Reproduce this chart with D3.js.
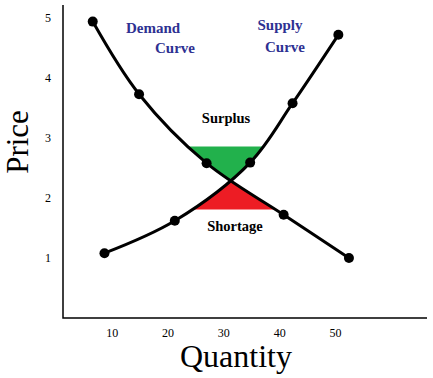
<!DOCTYPE html>
<html>
<head>
<meta charset="utf-8">
<script src="https://cdn.jsdelivr.net/npm/d3@7"></script>
<style>
  body { margin: 0; background: #fff; }
  svg { display: block; font-family: "Liberation Serif", "Times New Roman", serif; }
</style>
</head>
<body>
<svg id="chart" width="433" height="378"></svg>
<script>
// quantity / price
const demandQty = [6.6, 14.9, 27.0, 40.8, 52.5]
const demandPrice = [4.94, 3.73, 2.58, 1.72, 1.0]
const supplyQty = [8.7, 21.3, 34.8, 42.4, 50.6]
const supplyPrice = [1.08, 1.62, 2.59, 3.58, 4.72]
const xTicks = [10, 20, 30, 40, 50]
const yTicks = [1, 2, 3, 4, 5]
const surplusPrice = 2.86
const shortagePrice = 1.81

const svg = d3.select('#chart')

const xScale = d3.scaleLinear().domain([0, 50]).range([55.9, 335])
const yScale = d3.scaleLinear().domain([0, 5]).range([318, 18])

const demand = demandQty.map((q, i) => ({q, p: demandPrice[i]}))
const supply = supplyQty.map((q, i) => ({q, p: supplyPrice[i]}))

const line = d3.line()
  .x(d => xScale(d.q))
  .y(d => yScale(d.p))
  .curve(d3.curveCatmullRom)

// axes: only the tick labels, the frame is drawn as one path
const yAxis = d3.axisLeft(yScale).tickValues(yTicks).tickFormat(d3.format('d')).tickSize(0)
const xAxis = d3.axisBottom(xScale).tickValues(xTicks).tickFormat(d3.format('d')).tickSize(0)

const gy = svg.append('g').attr('transform', 'translate(63,0)').call(yAxis)
gy.select('.domain').remove()
gy.selectAll('text').attr('x', -12).attr('font-size', 12).attr('font-family', 'Liberation Serif')

const gx = svg.append('g').attr('transform', 'translate(0,318)').call(xAxis)
gx.select('.domain').remove()
gx.selectAll('text').attr('y', 10).attr('font-size', 12).attr('font-family', 'Liberation Serif')

svg.append('path')
  .attr('d', 'M63,5V318H427')
  .attr('fill', 'none')
  .attr('stroke', '#000')
  .attr('stroke-width', 1.5)

const demandPath = svg.append('path').attr('d', line(demand)).attr('fill', 'none')
const supplyPath = svg.append('path').attr('d', line(supply)).attr('fill', 'none')

// find where the two curves cross
function samples(node) {
  const len = node.getTotalLength()
  const pts = []
  for (let i = 0; i <= 600; i++) pts.push(node.getPointAtLength(len * i / 600))
  return pts
}
const dPts = samples(demandPath.node())
const sPts = samples(supplyPath.node())
let best = {d: Infinity}
dPts.forEach(a => sPts.forEach(b => {
  const dd = (a.x - b.x) ** 2 + (a.y - b.y) ** 2
  if (dd < best.d) best = {d: dd, x: (a.x + b.x) / 2, y: (a.y + b.y) / 2}
}))
const crossY = best.y

// bowtie between the two curves, cut into the two bands
const bowtie = line(demand) + 'L' + line(supply).slice(1) + 'Z'

const defs = svg.append('defs')
defs.append('clipPath').attr('id', 'clipSurplus')
  .append('rect')
  .attr('x', 0).attr('width', 433)
  .attr('y', yScale(surplusPrice))
  .attr('height', crossY - yScale(surplusPrice))
defs.append('clipPath').attr('id', 'clipShortage')
  .append('rect')
  .attr('x', 0).attr('width', 433)
  .attr('y', crossY)
  .attr('height', yScale(shortagePrice) - crossY)

svg.append('path')
  .attr('d', bowtie)
  .attr('fill', '#22b14c')
  .attr('clip-path', 'url(#clipSurplus)')
svg.append('path')
  .attr('d', bowtie)
  .attr('fill', '#ed1c24')
  .attr('clip-path', 'url(#clipShortage)')

demandPath.raise().attr('stroke', '#000').attr('stroke-width', 3)
supplyPath.raise().attr('stroke', '#000').attr('stroke-width', 3)

svg.selectAll('circle.pt')
  .data(demand.concat(supply))
  .join('circle')
  .attr('class', 'pt')
  .attr('cx', d => xScale(d.q))
  .attr('cy', d => yScale(d.p))
  .attr('r', 5)
  .attr('fill', '#000')

// text labels
const blue = '#2e3192'
const label = (x, y, t, color, size) => svg.append('text')
  .attr('x', x).attr('y', y)
  .attr('text-anchor', 'middle')
  .attr('font-weight', 'bold')
  .attr('font-size', size)
  .attr('fill', color)
  .text(t)

label(153, 33, 'Demand', blue, 15)
label(175, 53, 'Curve', blue, 15)
label(280, 30, 'Supply', blue, 15)
label(285, 52, 'Curve', blue, 15)
label(226, 123, 'Surplus', '#000', 14.5)
label(235, 231, 'Shortage', '#000', 14.5)

svg.append('text')
  .attr('transform', 'translate(28,142) rotate(-90)')
  .attr('text-anchor', 'middle')
  .attr('font-size', 31)
  .text('Price')

svg.append('text')
  .attr('x', 236).attr('y', 367)
  .attr('text-anchor', 'middle')
  .attr('font-size', 32)
  .text('Quantity')
</script>
</body>
</html>
